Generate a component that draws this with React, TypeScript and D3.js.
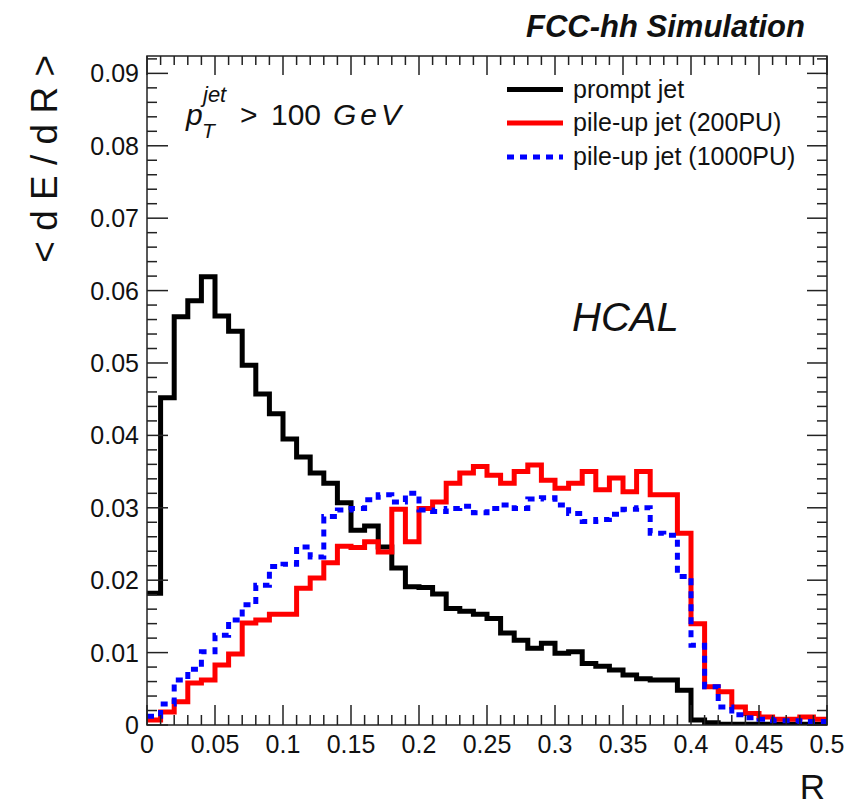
import * as d3 from "d3";
import React from "react";

// bin edges in R (50 bins of 0.01)
const binEdges = [
  0, 0.01, 0.02, 0.03, 0.04, 0.05, 0.06, 0.07, 0.08, 0.09, 0.1, 0.11, 0.12, 0.13, 0.14, 0.15, 0.16,
  0.17, 0.18, 0.19, 0.2, 0.21, 0.22, 0.23, 0.24, 0.25, 0.26, 0.27, 0.28, 0.29, 0.3, 0.31, 0.32, 0.33,
  0.34, 0.35, 0.36, 0.37, 0.38, 0.39, 0.4, 0.41, 0.42, 0.43, 0.44, 0.45, 0.46, 0.47, 0.48, 0.49, 0.5,
];

const promptJet = [
  0.0182, 0.0452, 0.0564, 0.0586, 0.0619, 0.0565, 0.0544, 0.0497, 0.0457, 0.043,
  0.0395, 0.037, 0.0348, 0.0334, 0.0307, 0.0269, 0.0275, 0.0246, 0.0217, 0.0191,
  0.019, 0.0181, 0.0161, 0.0157, 0.0153, 0.0147, 0.0127, 0.0117, 0.0106, 0.0113,
  0.0099, 0.0101, 0.0085, 0.0081, 0.0076, 0.0069, 0.0064, 0.0062, 0.0062, 0.0048,
  0.0007, 0.0003, 0.0001, 0.0001, 0.0001, 0.0001, 0.0001, 0.0001, 0.0001, 0.0001,
];

const pileup200 = [
  0.0007, 0.0018, 0.0032, 0.0058, 0.0062, 0.0083, 0.0098, 0.0141, 0.0145, 0.0153,
  0.0153, 0.0189, 0.0203, 0.0224, 0.0247, 0.0245, 0.0253, 0.0239, 0.0298, 0.0253,
  0.0299, 0.0308, 0.0334, 0.0348, 0.0357, 0.0345, 0.0334, 0.035, 0.0359, 0.0338,
  0.0327, 0.0334, 0.035, 0.0325, 0.0341, 0.0322, 0.035, 0.0318, 0.0318, 0.0265,
  0.014, 0.0053, 0.0046, 0.0025, 0.0016, 0.0011, 0.0008, 0.0008, 0.0011, 0.0008,
];

const pileup1000 = [
  0.0012, 0.0029, 0.0062, 0.0077, 0.0101, 0.0124, 0.0145, 0.0166, 0.0193, 0.0219,
  0.0222, 0.0246, 0.0232, 0.0288, 0.0297, 0.0299, 0.0311, 0.0318, 0.0308, 0.032,
  0.0297, 0.0295, 0.0299, 0.0302, 0.0293, 0.0299, 0.0304, 0.0299, 0.0312, 0.0314,
  0.0304, 0.0292, 0.0281, 0.0284, 0.0291, 0.0298, 0.03, 0.0265, 0.0262, 0.0205,
  0.011, 0.0053, 0.0025, 0.0014, 0.001, 0.0008, 0.0006, 0.0006, 0.0005, 0.0005,
];

const xMajorTicks = [0, 0.05, 0.1, 0.15, 0.2, 0.25, 0.3, 0.35, 0.4, 0.45, 0.5];
const xTickLabels = ["0", "0.05", "0.1", "0.15", "0.2", "0.25", "0.3", "0.35", "0.4", "0.45", "0.5"];
const yMajorTicks = [0, 0.01, 0.02, 0.03, 0.04, 0.05, 0.06, 0.07, 0.08, 0.09];
const yTickLabels = ["0", "0.01", "0.02", "0.03", "0.04", "0.05", "0.06", "0.07", "0.08", "0.09"];

const legendLabels = ["prompt jet", "pile-up jet (200PU)", "pile-up jet (1000PU)"];

const W = 859;
const H = 805;
const left = 147, right = 827, top = 56, bottom = 725;
const font = "'Liberation Sans', Arial, Helvetica, sans-serif";

const x = d3.scaleLinear().domain([0, 0.5]).range([left, right]);
const y = d3.scaleLinear().domain([0, 0.0924]).range([bottom, top]);

const stepLine = d3.line<[number, number]>().x(d => x(d[0])).y(d => y(d[1]));

function stepPath(vals: number[]) {
  const pts: [number, number][] = [];
  vals.forEach((v, i) => {
    pts.push([binEdges[i], v]);
    pts.push([binEdges[i + 1], v]);
  });
  return stepLine(pts) || "";
}

const series = [
  { vals: promptJet, color: "#000000", dash: undefined as string | undefined },
  { vals: pileup200, color: "#ff0000", dash: undefined as string | undefined },
  { vals: pileup1000, color: "#0000ff", dash: "7 6" },
];

export default function App() {
  const xMinor = d3.range(0, 0.5001, 0.01);
  const yMinor = d3.range(0, 0.0924, 0.002);
  const isMajorX = (t: number) => xMajorTicks.some(m => Math.abs(m - t) < 1e-6);
  const isMajorY = (t: number) => yMajorTicks.some(m => Math.abs(m - t) < 1e-6);

  return (
    <svg width={W} height={H} style={{ display: "block", position: "absolute", left: 0, top: 0 }}
      fontFamily={font}>
      <rect x={0} y={0} width={W} height={H} fill="#fff" />
      <defs>
        <clipPath id="plot">
          <rect x={left} y={top} width={right - left} height={bottom - top} />
        </clipPath>
      </defs>

      {/* histograms */}
      <g clipPath="url(#plot)">
        {series.map((s, i) => (
          <path key={i} d={stepPath(s.vals)} fill="none" stroke={s.color} strokeWidth={5}
            strokeDasharray={s.dash} strokeLinejoin="miter" strokeLinecap="butt" />
        ))}
      </g>

      {/* frame */}
      <rect x={left} y={top} width={right - left} height={bottom - top} fill="none" stroke="#222" strokeWidth={1.5} />

      {/* x ticks (bottom and top) */}
      {xMinor.map((t, i) => {
        const major = isMajorX(t);
        const len = major ? 20 : 10;
        return (
          <g key={"xt" + i} stroke="#222" strokeWidth={1.5}>
            <line x1={x(t)} x2={x(t)} y1={bottom} y2={bottom - len} />
            <line x1={x(t)} x2={x(t)} y1={top} y2={top + (major ? 19 : 9)} />
          </g>
        );
      })}
      {/* y ticks (left and right) */}
      {yMinor.map((t, i) => {
        const major = isMajorY(t);
        return (
          <g key={"yt" + i} stroke="#222" strokeWidth={1.5}>
            <line x1={left} x2={left + (major ? 21 : 10)} y1={y(t)} y2={y(t)} />
            <line x1={right} x2={right - (major ? 20 : 10)} y1={y(t)} y2={y(t)} />
          </g>
        );
      })}

      {/* tick labels */}
      {xMajorTicks.map((t, i) => (
        <text key={"xl" + i} x={x(t)} y={753} fontSize={25} textAnchor="middle" fill="#111">
          {xTickLabels[i]}
        </text>
      ))}
      {yMajorTicks.map((t, i) => (
        <text key={"yl" + i} x={139} y={y(t) + 9} fontSize={25} textAnchor="end" fill="#111">
          {yTickLabels[i]}
        </text>
      ))}

      {/* axis titles */}
      <text x={825} y={799} fontSize={35} textAnchor="end" fill="#111">R</text>
      <text transform={`translate(57,55) rotate(-90)`} fontSize={37} textAnchor="end" fill="#111">
        {"< d E / d R >"}
      </text>

      {/* header */}
      <text x={805} y={37} fontSize={31} fontWeight="bold" fontStyle="italic" textAnchor="end" fill="#111">
        FCC-hh Simulation
      </text>

      {/* pT label */}
      <g fill="#111">
        <text x={186} y={125} fontSize={30} fontStyle="italic">p</text>
        <text x={203} y={102} fontSize={22} fontStyle="italic">jet</text>
        <text x={202} y={138} fontSize={21} fontStyle="italic">T</text>
        <text x={240} y={125} fontSize={30}>{">"}</text>
        <text x={271} y={125} fontSize={30}>100</text>
        <text x={333} y={125} fontSize={30} fontStyle="italic" letterSpacing={4}>GeV</text>
      </g>

      {/* HCAL */}
      <text x={572} y={331} fontSize={40} fontStyle="italic" fill="#111">HCAL</text>

      {/* legend */}
      {series.map((s, i) => {
        const cy = [89.5, 123, 157][i];
        return (
          <g key={"lg" + i}>
            <line x1={507} x2={563} y1={cy} y2={cy} stroke={s.color} strokeWidth={5} strokeDasharray={s.dash} />
            <text x={573} y={cy + 8} fontSize={25} fill="#111">{legendLabels[i]}</text>
          </g>
        );
      })}
    </svg>
  );
}
